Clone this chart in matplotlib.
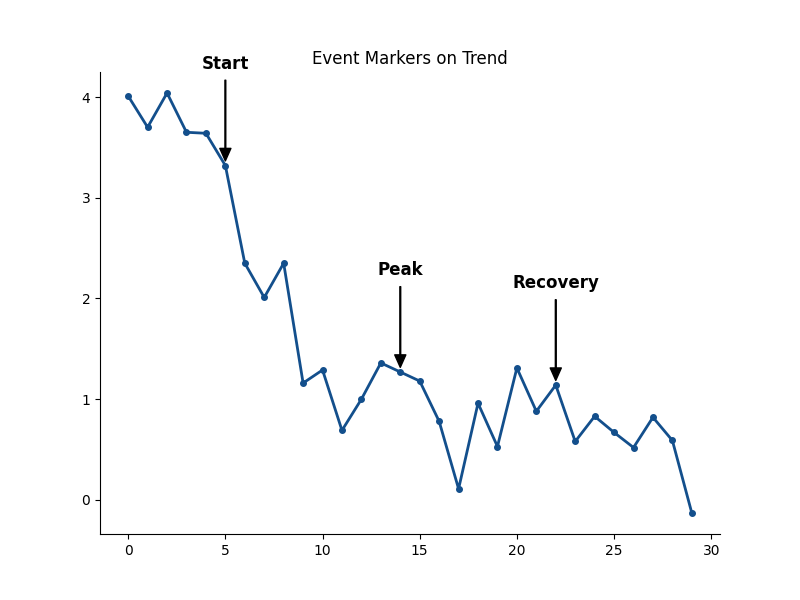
import matplotlib
matplotlib.use("Agg")
import matplotlib.pyplot as plt

x = list(range(30))
y = [4.01, 3.70, 4.04, 3.65, 3.64, 3.32, 2.35, 2.01, 2.35, 1.16,
     1.29, 0.69, 1.00, 1.36, 1.27, 1.18, 0.78, 0.11, 0.96, 0.53,
     1.31, 0.88, 1.14, 0.58, 0.83, 0.67, 0.52, 0.82, 0.59, -0.13]
events = [(5, "Start"), (14, "Peak"), (22, "Recovery")]

fig, ax = plt.subplots(figsize=(8, 6), dpi=100)
ax.plot(x, y, color="#134f8c", linewidth=2, marker="o", markersize=4)
for xi, label in events:
    yi = y[xi]
    ax.annotate(label, xy=(xi, yi), xytext=(xi, yi + 1.01),
                ha="center", va="center", fontsize=12, fontweight="bold",
                arrowprops=dict(facecolor="black", shrink=0.05, width=0.6,
                                headwidth=8, headlength=9))
ax.set_title("Event Markers on Trend")
ax.spines["top"].set_visible(False)
ax.spines["right"].set_visible(False)
fig.savefig("out.png")
